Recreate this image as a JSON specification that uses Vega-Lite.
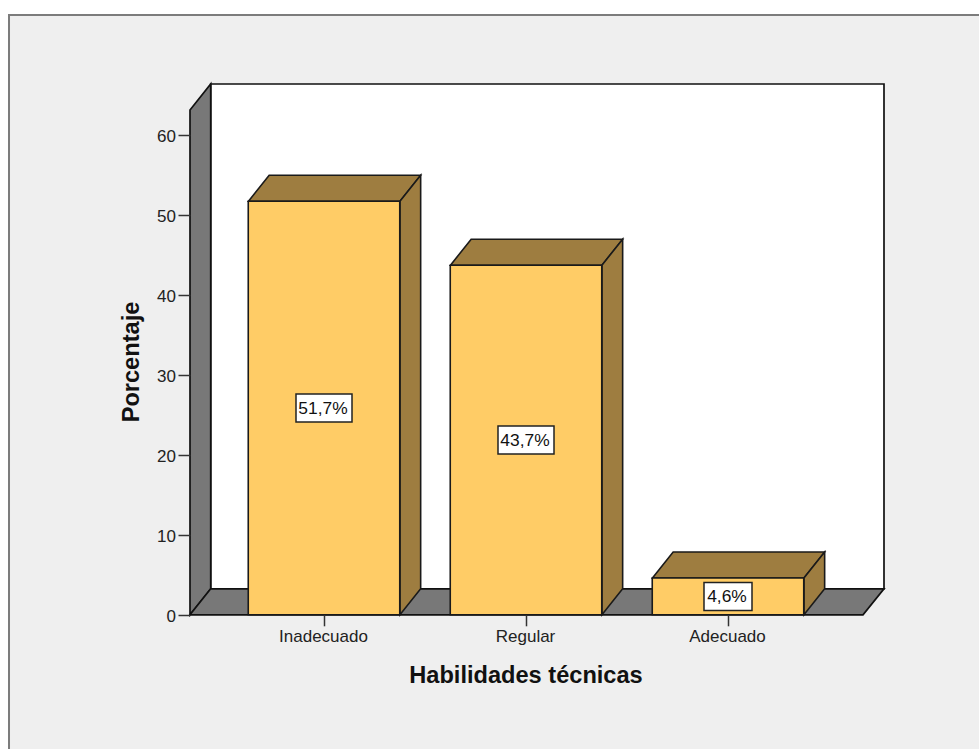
{
  "$schema": "https://vega.github.io/schema/vega-lite/v6.json",
  "width": 979,
  "height": 749,
  "padding": 0,
  "autosize": {"type": "none"},
  "background": "#ffffff",
  "config": {"view": {"stroke": null}},
  "datasets": {
    "bars": [
      {"categoria": "Inadecuado", "pos": 1, "porcentaje": 51.7, "mitad": 25.85, "etiqueta": "51,7%"},
      {"categoria": "Regular", "pos": 2, "porcentaje": 43.7, "mitad": 21.85, "etiqueta": "43,7%"},
      {"categoria": "Adecuado", "pos": 3, "porcentaje": 4.6, "mitad": 2.3, "etiqueta": "4,6%"}
    ],
    "walls": [
      {"cara": "pared", "x": 0.3366, "y": 63.1, "y2": 0},
      {"cara": "pared", "x": 0.4391, "y": 66.35, "y2": 3.25},
      {"cara": "suelo", "x": 0.3366, "y": 0, "y2": 0},
      {"cara": "suelo", "x": 0.4391, "y": 3.25, "y2": 0},
      {"cara": "suelo", "x": 3.6683, "y": 3.25, "y2": 0},
      {"cara": "suelo", "x": 3.7723, "y": 3.25, "y2": 3.25}
    ],
    "faces": [
      {"cara": "a-techo", "x": 0.626, "y": 51.7, "y2": 51.7},
      {"cara": "a-techo", "x": 0.7285, "y": 54.95, "y2": 51.7},
      {"cara": "a-techo", "x": 1.376, "y": 54.95, "y2": 51.7},
      {"cara": "a-techo", "x": 1.4785, "y": 54.95, "y2": 54.95},
      {"cara": "a-lado", "x": 1.376, "y": 51.7, "y2": 0},
      {"cara": "a-lado", "x": 1.4785, "y": 54.95, "y2": 3.25},
      {"cara": "b-techo", "x": 1.626, "y": 43.7, "y2": 43.7},
      {"cara": "b-techo", "x": 1.7285, "y": 46.95, "y2": 43.7},
      {"cara": "b-techo", "x": 2.376, "y": 46.95, "y2": 43.7},
      {"cara": "b-techo", "x": 2.4785, "y": 46.95, "y2": 46.95},
      {"cara": "b-lado", "x": 2.376, "y": 43.7, "y2": 0},
      {"cara": "b-lado", "x": 2.4785, "y": 46.95, "y2": 3.25},
      {"cara": "c-techo", "x": 2.626, "y": 4.6, "y2": 4.6},
      {"cara": "c-techo", "x": 2.7285, "y": 7.85, "y2": 4.6},
      {"cara": "c-techo", "x": 3.376, "y": 7.85, "y2": 4.6},
      {"cara": "c-techo", "x": 3.4785, "y": 7.85, "y2": 7.85},
      {"cara": "c-lado", "x": 3.376, "y": 4.6, "y2": 0},
      {"cara": "c-lado", "x": 3.4785, "y": 7.85, "y2": 3.25}
    ]
  },
  "layer": [
    {
      "description": "Grey panel behind the chart, running off the right and bottom edges; owns both axes",
      "data": {"values": [{"marco": "panel"}]},
      "mark": {"type": "rect", "fill": "#efefef", "stroke": "#7c7c7c", "strokeWidth": 2},
      "encoding": {
        "x": {
          "datum": -0.5594,
          "type": "quantitative",
          "scale": {"domain": [-0.604, 4.2426], "range": [0, 979], "nice": false, "zero": false},
          "axis": {
            "values": [1, 2, 3],
            "zindex": 1,
            "offset": -134.2,
            "domain": false,
            "grid": false,
            "tickSize": 11,
            "tickWidth": 1.5,
            "tickColor": "#333333",
            "labelExpr": "datum.value == 1 ? 'Inadecuado' : datum.value == 2 ? 'Regular' : 'Adecuado'",
            "labelFont": "Liberation Sans",
            "labelFontSize": 17,
            "labelColor": "#222222",
            "labelPadding": 3,
            "labelOffset": -1,
            "labelFlush": false,
            "labelOverlap": false,
            "title": "Habilidades técnicas",
            "titleFont": "Liberation Sans",
            "titleFontSize": 23.6,
            "titleFontWeight": "bold",
            "titleColor": "#111111",
            "titleAlign": "center",
            "titleX": 525.5,
            "titleY": 68,
            "titleBaseline": "alphabetic"
          }
        },
        "x2": {"datum": 4.4},
        "y": {
          "datum": 74.975,
          "type": "quantitative",
          "scale": {"domain": [-16.775, 76.85], "range": [749, 0], "nice": false, "zero": false},
          "axis": {
            "values": [0, 10, 20, 30, 40, 50, 60],
            "zindex": 1,
            "offset": -190,
            "domain": false,
            "grid": false,
            "tickSize": 12,
            "tickWidth": 1.5,
            "tickColor": "#333333",
            "labelFont": "Liberation Sans",
            "labelFontSize": 17,
            "labelColor": "#222222",
            "labelPadding": 2.5,
            "labelOffset": 1.5,
            "labelFlush": false,
            "labelOverlap": false,
            "title": "Porcentaje",
            "titleFont": "Liberation Sans",
            "titleFontSize": 23.6,
            "titleFontWeight": "bold",
            "titleColor": "#111111",
            "titleAngle": -90,
            "titleAlign": "center",
            "titleBaseline": "alphabetic",
            "titleX": -52,
            "titleY": 361.5
          }
        },
        "y2": {"datum": -20}
      }
    },
    {
      "description": "White back wall",
      "data": {"values": [{"marco": "fondo"}]},
      "mark": {"type": "rect", "fill": "#ffffff", "stroke": "#111111", "strokeWidth": 1.7},
      "encoding": {
        "x": {"datum": 0.4391, "type": "quantitative"},
        "x2": {"datum": 3.7723},
        "y": {"datum": 66.35, "type": "quantitative"},
        "y2": {"datum": 3.25}
      }
    },
    {
      "description": "Grey side wall and floor",
      "data": {"name": "walls"},
      "mark": {"type": "area", "fill": "#787878", "stroke": "#111111", "strokeWidth": 1.7, "fillOpacity": 1},
      "encoding": {
        "detail": {"field": "cara"},
        "x": {"field": "x", "type": "quantitative"},
        "y": {"field": "y", "type": "quantitative", "stack": false},
        "y2": {"field": "y2"}
      }
    },
    {
      "description": "Top and right-hand faces of each bar",
      "data": {"name": "faces"},
      "mark": {"type": "area", "fill": "#9e7d40", "stroke": "#1a1a1a", "strokeWidth": 1.6, "fillOpacity": 1},
      "encoding": {
        "detail": {"field": "cara"},
        "x": {"field": "x", "type": "quantitative"},
        "y": {"field": "y", "type": "quantitative", "stack": false},
        "y2": {"field": "y2"}
      }
    },
    {
      "description": "Front of each bar",
      "data": {"name": "bars"},
      "mark": {"type": "rect", "width": 151.5, "fill": "#ffcc66", "stroke": "#1a1a1a", "strokeWidth": 1.6},
      "encoding": {
        "x": {"field": "pos", "type": "quantitative"},
        "y": {"field": "porcentaje", "type": "quantitative"},
        "y2": {"datum": 0}
      }
    },
    {
      "description": "Boxes behind the two wider value labels",
      "data": {"name": "bars"},
      "transform": [{"filter": "datum.pos < 3"}],
      "mark": {"type": "rect", "width": 56, "height": 28, "fill": "#ffffff", "stroke": "#222222", "strokeWidth": 1.5},
      "encoding": {
        "x": {"field": "pos", "type": "quantitative"},
        "y": {"field": "mitad", "type": "quantitative"}
      }
    },
    {
      "description": "Box behind the narrow value label",
      "data": {"name": "bars"},
      "transform": [{"filter": "datum.pos == 3"}],
      "mark": {"type": "rect", "width": 48, "height": 28, "fill": "#ffffff", "stroke": "#222222", "strokeWidth": 1.5},
      "encoding": {
        "x": {"field": "pos", "type": "quantitative"},
        "y": {"field": "mitad", "type": "quantitative"}
      }
    },
    {
      "description": "Value labels in decimal-comma notation",
      "data": {"name": "bars"},
      "mark": {"type": "text", "font": "Liberation Sans", "fontSize": 17.4, "color": "#111111", "align": "center", "baseline": "middle", "dx": -1, "dy": 1},
      "encoding": {
        "x": {"field": "pos", "type": "quantitative"},
        "y": {"field": "mitad", "type": "quantitative"},
        "text": {"field": "etiqueta"}
      }
    }
  ]
}
